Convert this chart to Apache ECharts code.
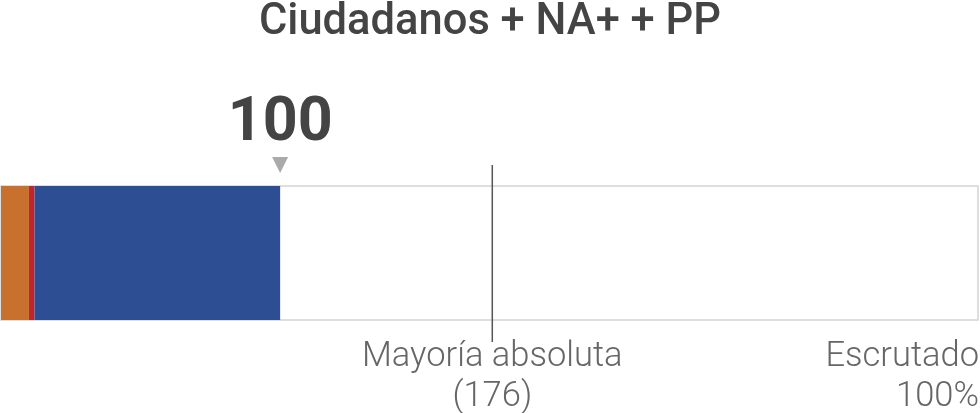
<!DOCTYPE html>
<html>
<head>
    <meta charset="utf-8">
    <title>Ciudadanos + NA+ + PP</title>
    <script src="https://cdn.jsdelivr.net/npm/echarts@6/dist/echarts.min.js"></script>
    <style>
        html, body { margin: 0; padding: 0; background: #fff; }
        #chart { width: 980px; height: 413px; }
    </style>
</head>
<body>
<div id="chart"></div>
<script>
// datos
const categories = ['Escaños'];
const parties = ['Ciudadanos', 'NA+', 'PP'];
const seats = [10, 2, 88];
const partyColors = ['#c8702e', '#c4232b', '#2e4e93'];
const totalSeats = 350;
const majority = 176;
const scrutinized = '100%';

const sum = seats.reduce((a, b) => a + b, 0);

let chart = echarts.init(document.getElementById('chart'));

const lightFont = { fontFamily: 'Roboto', fontWeight: 300, fontSize: 34.5, fill: '#666' };

let barSeries = parties.map((name, i) => ({
    name: name,
    type: 'bar',
    stack: 'total',
    barWidth: '100%',
    itemStyle: { color: partyColors[i] },
    data: [seats[i]],
    z: 2
}));

chart.setOption({
    animation: false,
    title: {
        text: parties.join(' + '),
        left: 'center',
        top: -4,
        textStyle: { fontFamily: 'Roboto', fontWeight: 500, fontSize: 43.5, color: '#444' }
    },
    grid: {
        left: 1, right: 2, top: 186, bottom: 93,
        show: true, borderColor: '#d4d4d4', borderWidth: 1.5, backgroundColor: '#fff'
    },
    xAxis: { type: 'value', min: 0, max: totalSeats, show: false },
    yAxis: { type: 'category', data: categories, show: false },
    series: barSeries.concat([
        {
            // total + marcador
            type: 'custom',
            clip: false,
            z: 5,
            data: [[sum, 0]],
            encode: { x: 0, y: 1 },
            renderItem: function (params, api) {
                let p = api.coord([api.value(0), api.value(1)]);
                let h = api.size([0, 1])[1];
                let top = p[1] - h / 2;
                return {
                    type: 'group',
                    children: [
                        { type: 'polygon', shape: { points: [[p[0] - 8, top - 29], [p[0] + 8, top - 29], [p[0], top - 13]] },
                          style: { fill: '#aaa' } },
                        { type: 'text', x: p[0], y: top - 61,
                          style: { text: String(api.value(0)), textAlign: 'center', textVerticalAlign: 'middle',
                                   fontFamily: 'Roboto', fontWeight: 700, fontSize: 61, fill: '#444' } }
                    ]
                };
            }
        },
        {
            // mayoría absoluta
            type: 'custom',
            clip: false,
            z: 6,
            data: [[majority, 0]],
            encode: { x: 0, y: 1 },
            renderItem: function (params, api) {
                let p = api.coord([api.value(0), api.value(1)]);
                let h = api.size([0, 1])[1];
                let top = p[1] - h / 2, bottom = p[1] + h / 2;
                return {
                    type: 'group',
                    children: [
                        { type: 'line', shape: { x1: p[0], y1: top - 21, x2: p[0], y2: bottom + 22 },
                          style: { stroke: '#555', lineWidth: 1.5 } },
                        { type: 'text', x: p[0], y: bottom + 57,
                          style: Object.assign({ text: 'Mayoría absoluta\n(' + api.value(0) + ')', textAlign: 'center',
                                   textVerticalAlign: 'middle', lineHeight: 40 }, lightFont) }
                    ]
                };
            }
        },
        {
            // escrutado
            type: 'custom',
            clip: false,
            z: 6,
            data: [[totalSeats, 0]],
            encode: { x: 0, y: 1 },
            renderItem: function (params, api) {
                let p = api.coord([api.value(0), api.value(1)]);
                let h = api.size([0, 1])[1];
                let bottom = p[1] + h / 2;
                return {
                    type: 'text', x: p[0] + 1, y: bottom + 57,
                    style: Object.assign({ text: 'Escrutado\n' + scrutinized, textAlign: 'right',
                             textVerticalAlign: 'middle', lineHeight: 40 }, lightFont)
                };
            }
        }
    ])
});
</script>
</body>
</html>
